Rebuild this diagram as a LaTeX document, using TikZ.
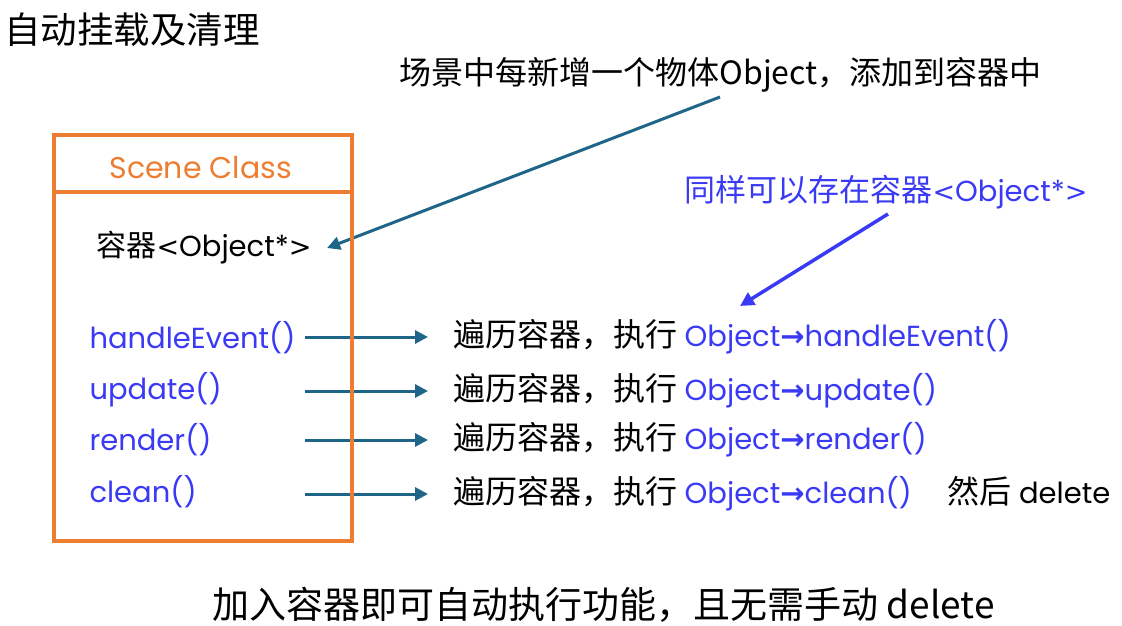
\documentclass[tikz,border=0pt]{standalone}
\usepackage{fontspec}
\setmainfont{Noto Sans CJK SC}
\newfontfamily\codefont{Poppins}
\newfontfamily\symfont{DejaVu Sans}
\usetikzlibrary{arrows.meta}
\definecolor{boxorange}{HTML}{ED7D31}
\definecolor{codeblue}{HTML}{3A3AF5}
\definecolor{linkteal}{HTML}{1F6587}
\newcommand{\code}[1]{{\codefont\fontsize{29}{33}\selectfont\color{codeblue}#1}}
\newcommand{\objcall}[1]{\code{Object{\symfont\bfseries →}#1}}
\newcommand{\objptr}{{\symfont\fontsize{27}{33}\selectfont<}Object*{\symfont\fontsize{27}{33}\selectfont>}}
\begin{document}
\begin{tikzpicture}[x=1pt,y=-1pt,line width=3pt,
  every node/.style={anchor=west,inner sep=0pt,font=\fontsize{32}{36}\selectfont},
  link/.style={linkteal,-{Triangle[length=13pt,width=13pt]}}]
  \path[use as bounding box] (0,0) rectangle (1122,626);
  \node (title) at (3,30) {\fontsize{36.5}{40}\selectfont 自动挂载及清理};
  \node (note) at (398,75) {场景中每新增一个物体Object，添加到容器中};
  \node (vec) at (95,248) {\fontsize{30}{34}\selectfont 容器\code{\color{black}\objptr}};
  \node (same) at (683,192) {\fontsize{31}{34}\selectfont\color{codeblue}同样可以存在容器\code{\objptr}};
  \node (cls) at (108,168) {\code{\fontsize{30}{34}\selectfont\color{boxorange}Scene Class}};
  \node (mhandle) at (88,338) {\code{handleEvent()}};
  \node (mupdate) at (88,390) {\code{update()}};
  \node (mrender) at (88,440) {\code{render()}};
  \node (mclean) at (88,492) {\code{clean()}};
  \node (rhandle) at (452,337) {遍历容器，执行 \objcall{handleEvent()}};
  \node (rupdate) at (452,391) {遍历容器，执行 \objcall{update()}};
  \node (rrender) at (452,440) {遍历容器，执行 \objcall{render()}};
  \node (rclean) at (452,494) {遍历容器，执行 \objcall{clean()}\hspace{36pt}然后 {\codefont\fontsize{29}{33}\selectfont delete}};
  \node (summary) at (211,605) {\fontsize{37}{42}\selectfont 加入容器即可自动执行功能，且无需手动 delete};
  \coordinate (notefoot) at (720,97);
  \coordinate (samefoot) at (888,214);
  \coordinate (sametip) at (740,306);
  \foreach \r in {rhandle,rupdate,rrender,rclean}{
    \path (\r.west) ++(-147,0) coordinate (\r tail);
    \draw[link] (\r tail) -- ([xshift=-24pt]\r.west);
  }
  \draw[link] (notefoot) -- ([xshift=14pt]vec.east);
  \draw[codeblue,line width=3.5pt,-{Triangle[length=14pt,width=14pt]}] (samefoot) -- (sametip);
  \draw[boxorange,line width=3.5pt] (54,135) rectangle (352,541) (54,192) -- (352,192);
\end{tikzpicture}
\end{document}
